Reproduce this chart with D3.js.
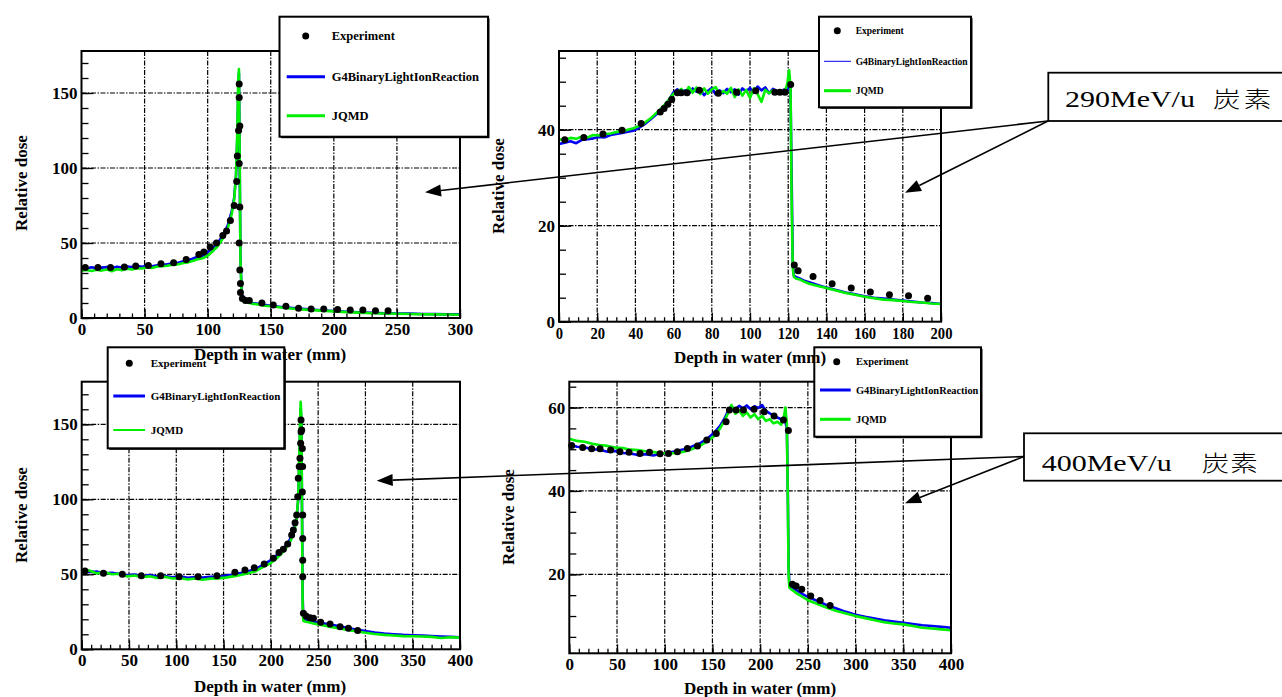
<!DOCTYPE html>
<html>
<head>
<meta charset="utf-8">
<script src="https://cdn.jsdelivr.net/npm/d3@7"></script>
<style>
body { margin: 0; background: #fff; }
svg { display: block; }
.grid { stroke: #000; stroke-width: 1.2; stroke-dasharray: 5 1.5 1.5 1.5; }
.axis line { stroke: #000; stroke-width: 1.3; }
</style>
</head>
<body>
<script>
// ---- data ----
var legendLabels = ["Experiment", "G4BinaryLightIonReaction", "JQMD"];
var xTitle = "Depth in water (mm)", yTitle = "Relative dose";

// 290 MeV/u, pristine peak
var simX1 = [0,4,8,12,16,20,24,28,32,36, 40,44,48,52,56,60,64,68,72,76,
  80,84,88,92,96,100,104,108,112,116, 119,121,122.5,123.5,124.2,124.8,125.3,126,127,128.5,
  131,135,140,145,150,160,170,180,190,200, 210,220,230,240,250,260,270,280,290,300];
var blue1 = [33.5,33,33.8,33.2,33.6,33.9,33.4,34.1,33.7,34.3, 34,34.6,34.2,34.9,34.5,35.2,35.3,35.8,36.3,36.6,
  37.6,38.3,39.5,40.8,41.5,43.8,46.5,50,55,62, 71,80,95,120,150,163,110,40,16,12,
  11,10,9.5,8.8,8.2,7.2,6.5,5.8,5.2,4.7, 4.2,3.8,3.5,3.2,3,2.9,2.7,2.6,2.5,2.4];
var green1 = [31.5,32,31.3,32.2,31.6,32.4,31.2,32.5,31.9,32.8, 32.3,33.2,33,33.8,33.4,34.3,34.5,34.8,35.5,35.7,
  36.5,37,38,39.2,39.8,41.5,44.5,48,53,60, 69,79,96,125,158,166,115,38,14,11,
  10.3,9.6,9,8.2,7.8,6.8,6,5.4,4.9,4.4, 3.9,3.6,3.2,3,2.8,2.7,2.5,2.4,2.3,2.2];
var exp1X = [3,13,23,34,43,53,63,73,83,93, 97,102,107,112,115,118,121,123,123.5,124.5,
  125,125,125.5,125,125.5,125,125.5,126,126,127.5, 130,133,143,152,162,172,182,192,203,213, 223,233,243];
var exp1Y = [33.6,33.7,33.7,34,34.6,35,36.2,36.8,39,42.4, 44,47.4,50,55,58,65,75,91,108,125,
  147,156,128,103,74,50,32,23,17,13, 11.6,11.6,10,8.7,7.8,6.5,6,6,5.6,5.3, 5.3,4.9,4.9];

// 290 MeV/u, spread-out peak
var simX2 = [0,3,6,9,12,15,18,21,24,27, 30,33,36,39,42,45,48,51,54,57,
  60,62,64,66,68,70,72,74,76,78, 80,82,84,86,88,90,92,94,96,98,
  100,102,104,106,108,110,112,114,116,118, 119.5,120.5,121.2,121.8,122.4,123,124,126,128,131,
  135,140,145,150,155,160,165,170,175,180, 185,190,195,200];
var blue2 = [37,37.3,37.6,37.2,37.9,38,38.2,38.5,38.4,38.9, 39.1,39.3,39.6,39.8,40.4,41.2,42.2,43.2,44.4,45.8,
  47.8,48.4,47.6,48.2,47.5,48.6,47.9,48.3,47.2,48.1, 48.7,47.4,48.2,47.6,48.5,47.8,48.4,47.3,48.6,48,
  48.7,47.7,49,48.2,48.8,47.6,48.5,48.1,47.8,48.4, 48.2,49.5,48.5,30,12,9.6,9.3,9,8.6,8.2,
  7.7,7.1,6.6,6.1,5.7,5.3,5,4.8,4.6,4.4, 4.2,4,3.9,3.7];
var green2 = [38,37.8,38.3,38.1,38.6,38.4,38.9,38.8,39.1,39.2, 39.5,39.7,40,40.3,40.8,41.5,42.4,43.5,44.6,46,
  47.5,47.9,48.5,47.6,48.9,47.7,48.8,47.4,48.6,47.5, 48.4,48.9,47.3,48.1,47.5,48.7,46.8,48.4,47.1,48.3,
  46.6,48.6,47.4,45.8,48.3,47.6,48.2,47.5,48,47.7, 49.5,52.4,49,25,11,9.3,9,8.8,8.4,7.9,
  7.5,7,6.5,6,5.6,5.2,4.9,4.6,4.5,4.3, 4.1,4,3.8,3.7];
var exp2X = [3,13,23,33,43,53,55,57,59,62, 64,67,73.5,83.4,93,103,113,115.7,118.3,121.3,
  123.2,125.2,133,143,153,163,173,183,193];
var exp2Y = [37.9,38.4,39.1,39.9,41.3,43.7,44.4,45.3,46.3,47.7, 47.7,47.7,48.2,47.6,47.8,48.1,47.8,47.8,47.8,49.4,
  11.8,10.6,9.4,7.9,7,6.2,5.6,5.4,4.9];

// 400 MeV/u, pristine peak
var simX3 = [0,8,16,24,32,40,48,56,64,72, 80,88,96,104,112,120,128,136,144,152,
  160,168,176,184,192,200,205,210,215,220, 224,227,229,230.5,231.5,232.3,233,233.6,234.3,236,
  240,245,250,260,270,280,290,300,310,320, 330,340,350,360,370,380,390,400];
var blue3 = [52,51.5,51.8,50.6,51,50.2,49.3,49.8,48.7,49.5, 48.5,48.9,48,48.6,47.7,48.2,47.8,48.4,48.3,49,
  49.8,50.8,52,53.5,56.5,59.5,62,65,68.5,73, 79,86,100,135,160,150,90,35,22,20,
  19.3,18.6,17.8,16.8,15.6,14.3,13.2,12.2,11.2,10.5, 10,9.6,9.4,9.1,8.8,8.5,8.3,8];
var green3 = [51.5,52.5,50.6,51.4,50,50.4,48.6,49.2,48.1,48.7, 47.6,48.3,47.2,47.5,46.5,47.2,46.4,47.1,47.3,47.8,
  48.6,49.5,50.7,52.1,55,57.5,60,63,66.5,71, 77,85,102,140,165,155,85,28,19,18.5,
  18,17.2,16.6,15.3,14.2,13,12,11,10.2,9.6, 9.2,8.8,8.7,8.5,8.3,7.5,8,7.8];
var exp3X = [3.5,23,43,63,83.5,103,123,143,162,172.6, 182.5,193,202.6,208.6,213.2,217.8,222,223.8,225.6,227.3,
  228.4,229,230,230.8,231.5,231.9,231.9,232.6,233.3,233.6, 233.3,233.7,233.7,233.7,233.7,234.4,237.2,241.4,245,252.7,
  262.6,273.2,282,291.8];
var exp3Y = [52.2,50.7,50,49.1,49.1,48.4,48.4,49.1,51.3,52.9, 54.4,56.9,60.7,64.5,66.7,70.2,76.2,79.5,84.4,89.5,
  101.7,114,121.8,127.3,137.3,145,152.9,146.2,133.8,121.8, 104.9,89.5,73.9,59.4,48.4,24,22.2,21.1,20.7,18,
  16.9,15.1,14,12.5];

// 400 MeV/u, spread-out peak
var simX4 = [0,8,16,24,32,40,48,56,64,72, 80,88,96,104,112,120,128,136,144,152,
  158,163,167,170,174,178,182,186,190,194, 198,202,206,210,214,218,222,225,226.5,228,
  229,229.8,230.6,232,236,240,245,250,260,270, 280,290,300,310,320,330,340,350,360,370, 380,390,400];
var blue4 = [51.2,50.6,50.5,50,49.9,49.4,49.6,49.1,49,48.6, 48.8,48.5,48.9,49.2,49.5,50,50.6,51.3,52.4,54,
  55.6,57.5,59.5,60.2,59.6,60.4,59.8,60.5,59.6,60.3, 59.9,60.6,59.2,58.6,58.1,57.6,57.2,56.8,56.5,55,
  40,22,17.5,17,16.5,15.9,15.2,14.6,13.6,12.6, 11.8,11,10.3,9.8,9.4,9,8.7,8.4,8.1,7.8, 7.6,7.4,7.2];
var green4 = [52.5,52,51.8,51.3,51,50.8,50.4,50.3,49.9,49.8, 49.5,49.3,49.1,49,49.1,49.4,50,50.7,51.8,53.2,
  55,57,59,60.6,58.5,59.3,58,58.8,57.6,58.4, 57.2,58,56.8,57.2,56.2,56.6,55.9,58,60,56,
  38,20,16.8,16.5,15.8,15.2,14.5,13.8,12.9,12, 11.2,10.6,10,9.5,9,8.5,8.2,8,7.6,7.2, 7,6.8,6.6];
var exp4X = [2.5,14,23.4,32.2,43.3,53.1,62.6,74.1,84,95.1, 103.9,113.3,123.8,134.3,144.1,154,164.3,167.8,174.8,182.5,
  193.6,204.2,214.6,224.4,229.6,233.8,237.7,243.6,253,262.8, 273.3];
var exp4Y = [50.9,50.4,50.1,50.1,49.8,49.4,49.3,49,49.3,48.9, 49,49.4,50.2,50.8,52.2,53.8,56.6,59.4,59.4,59.4,
  59.6,59,58,57,54.5,17.6,17.2,16.4,14.8,13.7, 12.5];

// tick labels
var xTicks1 = [0,50,100,150,200,250,300], yTicks1 = [0,50,100,150];
var xTicks2 = [0,20,40,60,80,100,120,140,160,180,200], yTicks2 = [0,20,40];
var xTicks3 = [0,50,100,150,200,250,300,350,400], yTicks3 = [0,50,100,150];
var xTicks4 = [0,50,100,150,200,250,300,350,400], yTicks4 = [20,40,60];

var energies = ["290MeV/u", "400MeV/u"], element = "炭素";

// ---- layout ----
var BLUE = "#0000f5", GREEN = "#00f000";
var SERIF = '"Liberation Serif", "Times New Roman", serif';
var CJK = '"Noto Sans CJK JP", "Noto Sans CJK SC", sans-serif';

var panels = [
  { left: 81.5, right: 460, top: 51, bottom: 318, xDomain: [0, 300], yDomain: [0, 178],
    xTicks: xTicks1, yTicks: yTicks1, xMinor: d3.range(0, 301, 10), yMinor: d3.range(0, 178, 10),
    simX: simX1, blue: blue1, green: green1, expX: exp1X, expY: exp1Y, labelSx: 1,
    xt: [270, 360], yt: [27, 183],
    legend: { x: 279.5, y: 16.7, w: 208.5, h: 120, rows: [36, 76.7, 115.7], mx: 305.7, l0: 286.7, l1: 325, tx: 331.7, fs: 12.5, bw: 3, gw: 3 } },
  { left: 559, right: 941, top: 51, bottom: 321.7, xDomain: [0, 200], yDomain: [0, 56.4],
    xTicks: xTicks2, yTicks: yTicks2, xMinor: d3.range(0, 201, 5), yMinor: d3.range(0, 56, 5),
    simX: simX2, blue: blue2, green: green2, expX: exp2X, expY: exp2Y, labelSx: 0.86,
    xt: [750, 363], yt: [504, 186],
    legend: { x: 819, y: 16.7, w: 152, h: 90.6, rows: [30.7, 61.3, 90.7], mx: 837.3, l0: 824, l1: 851, tx: 855.7, fs: 9.5, bw: 1, gw: 3 } },
  { left: 81.7, right: 460, top: 381.7, bottom: 649.3, xDomain: [0, 400], yDomain: [0, 178.4],
    xTicks: xTicks3, yTicks: yTicks3, xMinor: d3.range(0, 401, 10), yMinor: d3.range(0, 178, 10),
    simX: simX3, blue: blue3, green: green3, expX: exp3X, expY: exp3Y, labelSx: 1,
    xt: [270, 692], yt: [27, 515],
    legend: { x: 107.7, y: 347.3, w: 176.6, h: 101, rows: [363.3, 396, 430], mx: 129.3, l0: 113.3, l1: 145, tx: 150.7, fs: 11, bw: 3, gw: 2 } },
  { left: 569.3, right: 951, top: 381.7, bottom: 653.3, xDomain: [0, 400], yDomain: [1.06, 66.2],
    xTicks: xTicks4, yTicks: yTicks4, xMinor: d3.range(0, 401, 10), yMinor: d3.range(5, 66, 5),
    simX: simX4, blue: blue4, green: green4, expX: exp4X, expY: exp4Y, labelSx: 1,
    xt: [760, 694], yt: [514, 517],
    legend: { x: 814.3, y: 347.3, w: 166.7, h: 89.4, rows: [361.7, 390, 419.3], mx: 836.7, l0: 820, l1: 850.7, tx: 856, fs: 10.4, bw: 3, gw: 3 } }
];

var svg = d3.select("body").append("svg")
    .attr("width", 1282)
    .attr("height", 697);

function styleAxis(sel, size, sx) {
  sel.select(".domain").remove();
  sel.attr("font-family", null).attr("font-size", null);
  sel.selectAll("text")
      .style("font-family", SERIF)
      .style("font-size", size + "px")
      .style("font-weight", "bold")
      .attr("fill", "#000")
      .attr("transform", sx === 1 ? null : "scale(" + sx + ",1)");
}

function drawPanel(p) {
  var x = d3.scaleLinear().domain(p.xDomain).range([p.left, p.right]),
      y = d3.scaleLinear().domain(p.yDomain).range([p.bottom, p.top]);
  var g = svg.append("g");

  // dash-dot grid on the labelled ticks
  g.selectAll(null)
      .data(p.xTicks.filter(function(d) { return d > p.xDomain[0] && d < p.xDomain[1]; }))
    .enter().append("line")
      .attr("class", "grid")
      .attr("x1", x).attr("x2", x)
      .attr("y1", p.top).attr("y2", p.bottom);
  g.selectAll(null)
      .data(p.yTicks.filter(function(d) { return d > p.yDomain[0] && d < p.yDomain[1]; }))
    .enter().append("line")
      .attr("class", "grid")
      .attr("x1", p.left).attr("x2", p.right)
      .attr("y1", y).attr("y2", y);

  var line = d3.line()
      .x(function(d) { return x(d[0]); })
      .y(function(d) { return y(d[1]); });

  g.append("path")
      .datum(d3.zip(p.simX, p.blue))
      .attr("d", line)
      .attr("fill", "none")
      .attr("stroke", BLUE)
      .attr("stroke-width", 2.6)
      .attr("stroke-linejoin", "round");

  g.append("path")
      .datum(d3.zip(p.simX, p.green))
      .attr("d", line)
      .attr("fill", "none")
      .attr("stroke", GREEN)
      .attr("stroke-width", 2.6)
      .attr("stroke-linejoin", "round");

  g.selectAll(null)
      .data(d3.zip(p.expX, p.expY))
    .enter().append("circle")
      .attr("cx", function(d) { return x(d[0]); })
      .attr("cy", function(d) { return y(d[1]); })
      .attr("r", 3.5)
      .attr("fill", "#000");

  // ticks point inwards, ROOT style
  g.append("g").attr("class", "axis")
      .attr("transform", "translate(0," + p.bottom + ")")
      .call(d3.axisBottom(x).tickValues(p.xMinor).tickSize(-4.5).tickFormat(""))
      .call(styleAxis, 17, 1);
  g.append("g").attr("class", "axis")
      .attr("transform", "translate(0," + p.bottom + ")")
      .call(d3.axisBottom(x).tickValues(p.xTicks).tickSize(-9).tickPadding(5).tickFormat(d3.format("d")))
      .call(styleAxis, 17, p.labelSx);
  g.append("g").attr("class", "axis")
      .attr("transform", "translate(" + p.left + ",0)")
      .call(d3.axisLeft(y).tickValues(p.yMinor).tickSize(-7).tickFormat(""))
      .call(styleAxis, 17, 1);
  g.append("g").attr("class", "axis")
      .attr("transform", "translate(" + p.left + ",0)")
      .call(d3.axisLeft(y).tickValues(p.yTicks).tickSize(-12).tickPadding(4).tickFormat(d3.format("d")))
      .call(styleAxis, 17, 1);

  g.append("rect")
      .attr("x", p.left).attr("y", p.top)
      .attr("width", p.right - p.left).attr("height", p.bottom - p.top)
      .attr("fill", "none")
      .attr("stroke", "#000")
      .attr("stroke-width", 2);
}

function drawLegend(L) {
  var g = svg.append("g");
  g.append("rect")
      .attr("x", L.x + 1.5).attr("y", L.y + 1.5)
      .attr("width", L.w).attr("height", L.h)
      .attr("fill", "#000");
  g.append("rect")
      .attr("x", L.x).attr("y", L.y)
      .attr("width", L.w).attr("height", L.h)
      .attr("fill", "#fff")
      .attr("stroke", "#000")
      .attr("stroke-width", 2);
  g.append("circle")
      .attr("cx", L.mx).attr("cy", L.rows[0]).attr("r", 3.5);
  g.append("line")
      .attr("x1", L.l0).attr("x2", L.l1)
      .attr("y1", L.rows[1]).attr("y2", L.rows[1])
      .attr("stroke", BLUE).attr("stroke-width", L.bw);
  g.append("line")
      .attr("x1", L.l0).attr("x2", L.l1)
      .attr("y1", L.rows[2]).attr("y2", L.rows[2])
      .attr("stroke", GREEN).attr("stroke-width", L.gw);
  g.selectAll(null)
      .data(legendLabels)
    .enter().append("text")
      .attr("x", L.tx)
      .attr("y", function(d, i) { return L.rows[i]; })
      .attr("dy", "0.35em")
      .style("font-family", SERIF)
      .style("font-size", L.fs + "px")
      .style("font-weight", "bold")
      .text(function(d) { return d; });
}

panels.forEach(drawPanel);
panels.forEach(function(p) { drawLegend(p.legend); });

// axis titles go over the neighbouring legends
panels.forEach(function(p) {
  svg.append("text")
      .attr("x", p.xt[0]).attr("y", p.xt[1])
      .attr("text-anchor", "middle")
      .style("font-family", SERIF)
      .style("font-size", "17px")
      .style("font-weight", "bold")
      .text(xTitle);
  svg.append("text")
      .attr("transform", "translate(" + p.yt[0] + "," + p.yt[1] + ") rotate(-90)")
      .attr("text-anchor", "middle")
      .style("font-family", SERIF)
      .style("font-size", "17px")
      .style("font-weight", "bold")
      .text(yTitle);
});

// ---- annotation boxes and arrows ----
var notes = [
  { box: [1048.3, 72.7, 240, 48.3], tx: 1065, ty: 106.7, cjk: 118.4, ls: 2.6,
    arrows: [[[1048, 121], [425, 192.3]], [[1048, 121], [905, 192.7]]] },
  { box: [1024, 433.3, 265, 47.4], tx: 1041.7, ty: 470.7, cjk: 128, ls: 0.8,
    arrows: [[[1024, 456.6], [376.7, 480.7]], [[1024, 456.6], [905, 503.3]]] }
];

notes.forEach(function(n, i) {
  svg.append("rect")
      .attr("x", n.box[0]).attr("y", n.box[1])
      .attr("width", n.box[2]).attr("height", n.box[3])
      .attr("fill", "#fff")
      .attr("stroke", "#000")
      .attr("stroke-width", 1.8);

  var t = svg.append("text")
      .attr("transform", "translate(" + n.tx + "," + n.ty + ") scale(1.25,1)")
      .style("font-family", SERIF);
  t.append("tspan")
      .style("font-size", "24px")
      .text(energies[i]);
  t.append("tspan")
      .attr("x", n.cjk)
      .attr("letter-spacing", n.ls)
      .style("font-family", CJK)
      .style("font-size", "22px")
      .style("font-weight", 300)
      .text(element);

  n.arrows.forEach(function(a) {
    var s = a[0], e = a[1],
        dx = e[0] - s[0], dy = e[1] - s[1],
        len = Math.sqrt(dx * dx + dy * dy),
        ux = dx / len, uy = dy / len,
        bx = e[0] - 16 * ux, by = e[1] - 16 * uy;
    svg.append("line")
        .attr("x1", s[0]).attr("y1", s[1])
        .attr("x2", bx).attr("y2", by)
        .attr("stroke", "#000")
        .attr("stroke-width", 1.6);
    svg.append("path")
        .attr("d", "M" + e[0] + "," + e[1] +
                   "L" + (bx - 6 * uy) + "," + (by + 6 * ux) +
                   "L" + (bx + 6 * uy) + "," + (by - 6 * ux) + "Z")
        .attr("fill", "#000");
  });
});
</script>
</body>
</html>
